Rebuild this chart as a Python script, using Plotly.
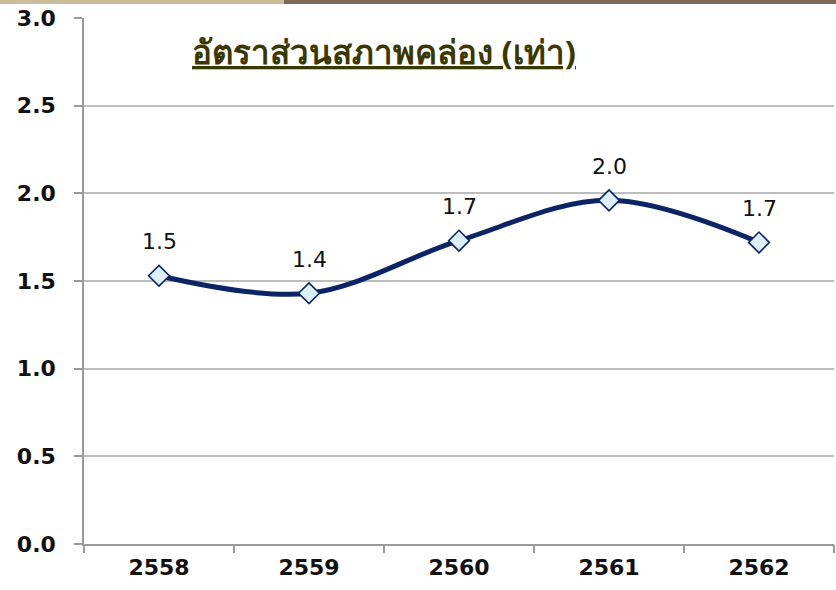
import plotly.graph_objects as go

years = ["2558", "2559", "2560", "2561", "2562"]
ratio = [1.53, 1.43, 1.73, 1.96, 1.72]
labels = ["1.5", "1.4", "1.7", "2.0", "1.7"]
y_ticks = [0.0, 0.5, 1.0, 1.5, 2.0, 2.5, 3.0]
y_tick_labels = ["0.0", "0.5", "1.0", "1.5", "2.0", "2.5", "3.0"]
title_text = "อัตราส่วนสภาพคล่อง (เท่า)"

idx = list(range(len(years)))
bounds = [i - 0.5 for i in range(len(years) + 1)]

fig = go.Figure()
fig.add_trace(go.Scatter(
    x=idx, y=ratio, mode="lines+markers",
    line=dict(color="#0A2466", width=5, shape="spline", smoothing=1.0),
    marker=dict(symbol="diamond", size=16, color="#DCEEF6",
                line=dict(color="#0A2466", width=1.6)),
    showlegend=False, hoverinfo="skip",
))
# invisible trace to anchor the boundary-tick axis
fig.add_trace(go.Scatter(
    x=bounds, y=[0] * len(bounds), xaxis="x2", mode="markers",
    marker=dict(size=1, opacity=0), showlegend=False, hoverinfo="skip",
))

for x, y, t in zip(idx, ratio, labels):
    fig.add_annotation(x=x, y=y, text=t, showarrow=False, yshift=34,
                       xref="x", yref="y",
                       font=dict(family="DejaVu Sans, sans-serif", size=22, color="#111111"))

fig.add_annotation(xref="paper", yref="paper", x=0.4, y=0.983,
                   text="<b><u>" + title_text + "</u></b>", showarrow=False,
                   font=dict(family="Tahoma, Noto Sans, DejaVu Sans, sans-serif", size=33, color="#3A3800"))

# top decorative band
fig.add_shape(type="rect", xref="paper", yref="paper", x0=-0.12, x1=0.2667, y0=1.0266, y1=1.04,
              fillcolor="#C8BD97", line=dict(width=0), layer="above")
fig.add_shape(type="rect", xref="paper", yref="paper", x0=0.2667, x1=1.01, y0=1.0266, y1=1.04,
              fillcolor="#7E6957", line=dict(width=0), layer="above")

fig.update_layout(
    xaxis=dict(
        tickmode="array", tickvals=idx, ticktext=years,
        showgrid=False, showline=True, linecolor="#9A9A9A", linewidth=1.5,
        ticks="", range=[-0.5, 4.5], zeroline=False, ticklabelstandoff=3,
        tickfont=dict(family="DejaVu Sans, sans-serif", size=22, color="#111111", weight="bold"),
    ),
    xaxis2=dict(
        overlaying="x", side="bottom", anchor="y", range=[-0.5, 4.5],
        tickmode="array", tickvals=bounds, showticklabels=False,
        ticks="outside", ticklen=8, tickcolor="#9A9A9A", tickwidth=1.5,
        showgrid=False, showline=False, zeroline=False,
    ),
    yaxis=dict(
        range=[0, 3.0], tickvals=y_ticks, ticktext=y_tick_labels,
        showgrid=True, gridcolor="#BDBDBD", gridwidth=1.5,
        showline=True, linecolor="#9A9A9A", linewidth=1.5,
        ticks="outside", ticklen=8, tickcolor="#9A9A9A", tickwidth=1.5,
        ticklabelstandoff=14,
        tickfont=dict(family="DejaVu Sans, sans-serif", size=22, color="#111111", weight="bold"),
        zeroline=False,
    ),
    width=836, height=590,
    margin=dict(l=84, r=2, t=18, b=46),
    paper_bgcolor="white", plot_bgcolor="white",
)
fig.write_html("out.html", config={"displayModeBar": False},
               post_script="document.body.style.margin='0';")
